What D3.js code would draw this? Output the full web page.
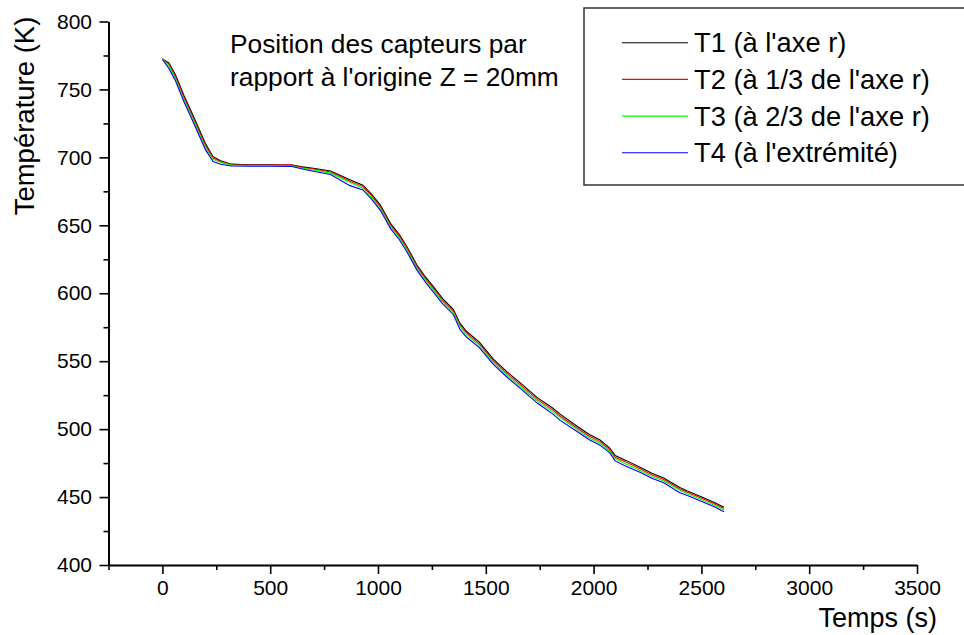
<!DOCTYPE html>
<html>
<head>
<meta charset="utf-8">
<script src="https://cdn.jsdelivr.net/npm/d3@7/dist/d3.min.js"></script>
<style>
body { margin: 0; background: #fff; }
text { font-family: "Liberation Sans", Arial, sans-serif; fill: #000; }
</style>
</head>
<body>
<svg></svg>
<script>
let width = 964, height = 635;

// time (s)
let time = [0, 30, 60, 100, 150, 200, 235, 270, 320, 400, 500, 600, 650, 700, 780, 870, 930, 970, 1010, 1060,
  1100, 1135, 1180, 1220, 1256, 1300, 1350, 1380, 1410, 1470, 1535, 1600, 1660, 1740, 1810, 1845, 1920, 1980,
  2030, 2075, 2100, 2150, 2215, 2270, 2325, 2400, 2435, 2510, 2560, 2605];

// temperatures (K)
let t1 = [772.5, 769.5, 761, 745.5, 728, 710, 700.5, 697.5, 695, 694.5, 694.5, 694.3, 693, 692, 690, 683.5, 679.5, 673, 665, 651,
  643, 634, 621, 612, 605, 596, 588, 578, 572, 564, 551.5, 542, 534, 523, 515.5, 511, 502.5, 496,
  492, 486, 480.5, 477, 472, 467.5, 464, 457, 454.5, 449.5, 446, 442.5];
let t2 = [772.5, 768.5, 759.5, 744, 726.5, 708.5, 699.5, 697, 694.6, 694.2, 694.2, 694.5, 692.5, 691.4, 689.2, 682.5, 678.5, 671.8, 663.8, 649.8,
  641.7, 632.8, 619.8, 610.8, 603.8, 594.8, 586.8, 576.8, 570.8, 562.7, 550.2, 540.7, 532.7, 521.7, 514.2, 509.7, 501.2, 494.8,
  490.8, 484.8, 479.3, 475.8, 470.8, 466.4, 462.9, 456, 453.5, 448.5, 445, 441.6];
let t3 = [772.3, 767.5, 758, 742.5, 725, 707, 698.5, 696.3, 694.3, 694, 694, 693.6, 692, 690.8, 688.4, 681.5, 677.3, 670.6, 662.6, 648.6,
  640.5, 631.6, 618.6, 609.6, 602.6, 593.6, 585.6, 575.6, 569.6, 561.4, 549, 539.4, 531.4, 520.4, 512.9, 508.6, 500, 493.5,
  489.6, 483.7, 478.3, 474.3, 469.6, 465.2, 461.8, 455, 452.4, 447.4, 444, 440.6];
let t4 = [772, 765.5, 756.5, 741, 723.5, 705.5, 697, 695, 693.6, 693.5, 693.5, 693.3, 691.4, 689.8, 687.4, 679.2, 676, 669.2, 661.2, 647.2,
  639.2, 630.2, 617.2, 608.2, 601, 592.2, 584.2, 573.4, 567.8, 560, 547.6, 538, 530, 519, 511.2, 506.4, 498.6, 492.2,
  488.2, 482.5, 476.6, 472.6, 468.2, 463.8, 460.5, 453.2, 451.2, 446.2, 442.8, 439.2];

let seriesNames = ["T1 (à l'axe r)", "T2 (à 1/3 de l'axe r)", "T3 (à 2/3 de l'axe r)", "T4 (à l'extrémité)"];
let seriesColors = ["#000000", "#ff0000", "#00ff00", "#0000ff"];
let seriesValues = [t1, t2, t3, t4];

let xTicks = [0, 500, 1000, 1500, 2000, 2500, 3000, 3500];
let xMinor = [-250, 250, 750, 1250, 1750, 2250, 2750, 3250];
let yTicks = [400, 450, 500, 550, 600, 650, 700, 750, 800];
let yMinor = [425, 475, 525, 575, 625, 675, 725, 775];

let annotation = ["Position des capteurs par", "rapport à l'origine Z = 20mm"];

let svg = d3.select("svg")
    .attr("width", width)
    .attr("height", height);

let x = d3.scaleLinear().domain([-250, 3500]).range([108.5, 917]);
let y = d3.scaleLinear().domain([400, 800]).range([565, 21.5]);

// minor ticks
svg.append("g")
    .attr("transform", "translate(0," + y(400) + ")")
    .call(d3.axisBottom(x).tickValues(xMinor).tickSize(5).tickFormat(""))
    .call(g => g.select(".domain").remove());
svg.append("g")
    .attr("transform", "translate(" + x(-250) + ",0)")
    .call(d3.axisLeft(y).tickValues(yMinor).tickSize(5).tickFormat(""))
    .call(g => g.select(".domain").remove());

// major axes
svg.append("g")
    .attr("transform", "translate(0," + y(400) + ")")
    .call(d3.axisBottom(x).tickValues(xTicks).tickFormat(d3.format("d"))
      .tickSize(9).tickSizeOuter(0).tickPadding(6));
svg.append("g")
    .attr("transform", "translate(" + x(-250) + ",0)")
    .call(d3.axisLeft(y).tickValues(yTicks).tickFormat(d3.format("d"))
      .tickSize(9).tickSizeOuter(0).tickPadding(7.5));

svg.selectAll(".tick line").attr("stroke", "#000").attr("stroke-width", 1.6);
svg.selectAll(".domain").attr("stroke", "#000").attr("stroke-width", 2);
svg.selectAll(".tick text")
    .attr("font-family", "'Liberation Sans', Arial, sans-serif")
    .attr("font-size", 21)
    .attr("fill", "#000");

// curves
let line = d3.line()
    .x((d, i) => x(time[i]))
    .y(d => y(d));

svg.append("g")
    .selectAll("path")
    .data(seriesValues)
    .enter()
    .append("path")
    .attr("d", line)
    .attr("fill", "none")
    .attr("stroke", (d, i) => seriesColors[i])
    .attr("stroke-width", 1.1);

// axis titles
svg.append("text")
    .attr("transform", "translate(34,116) rotate(-90)")
    .attr("text-anchor", "middle")
    .attr("font-size", 27.5)
    .text("Température (K)");

svg.append("text")
    .attr("x", 937)
    .attr("y", 627)
    .attr("text-anchor", "end")
    .attr("font-size", 27)
    .text("Temps (s)");

// annotation
svg.append("g")
    .selectAll("text")
    .data(annotation)
    .enter()
    .append("text")
    .attr("x", 230)
    .attr("y", (d, i) => 53 + i * 33)
    .attr("font-size", 26.3)
    .text(d => d);

// legend
let legend = svg.append("g");
legend.append("rect")
    .attr("x", 584)
    .attr("y", 8)
    .attr("width", 400)
    .attr("height", 177)
    .attr("fill", "#fff")
    .attr("stroke", "#333")
    .attr("stroke-width", 1.5);

let rows = legend.selectAll(".row")
    .data(seriesNames)
    .enter()
    .append("g")
    .attr("transform", (d, i) => "translate(0," + (42.7 + i * 36.7) + ")");

rows.append("line")
    .attr("x1", 622)
    .attr("x2", 688)
    .attr("stroke", (d, i) => seriesColors[i])
    .attr("stroke-width", 1.1);

rows.append("text")
    .attr("x", 694)
    .attr("dy", "0.35em")
    .attr("font-size", 27.3)
    .text(d => d);
</script>
</body>
</html>
